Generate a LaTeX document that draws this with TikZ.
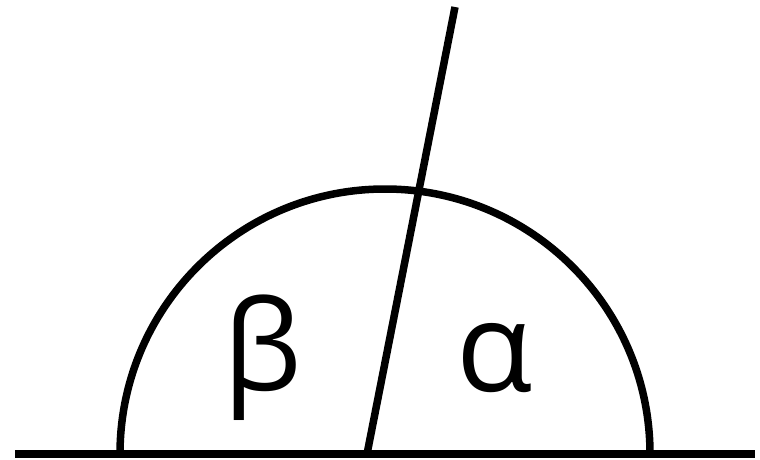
\documentclass[tikz,border=0pt]{standalone}
\usepackage{fontspec}
\setmainfont{Open Sans}
\begin{document}
\begin{tikzpicture}[x=1pt,y=1pt,line width=7.5pt,
  lbl/.style={inner sep=0pt,font=\fontsize{125}{125}\selectfont}]
\useasboundingbox (0,0) rectangle (760,459);
\coordinate (L) at (15,5);
\coordinate (R) at (755,5);
\coordinate (F) at (367,5);
\coordinate (T) at (455,452);
\coordinate (A1) at (650,5);
\draw (L) -- (R);
\draw (A1) arc[start angle=0,end angle=180,radius=265];
\draw (F) -- (T);
\node[lbl] (b) at (263,101) {β};
\node[lbl] (a) at (495,101) {α};
\end{tikzpicture}
\end{document}
